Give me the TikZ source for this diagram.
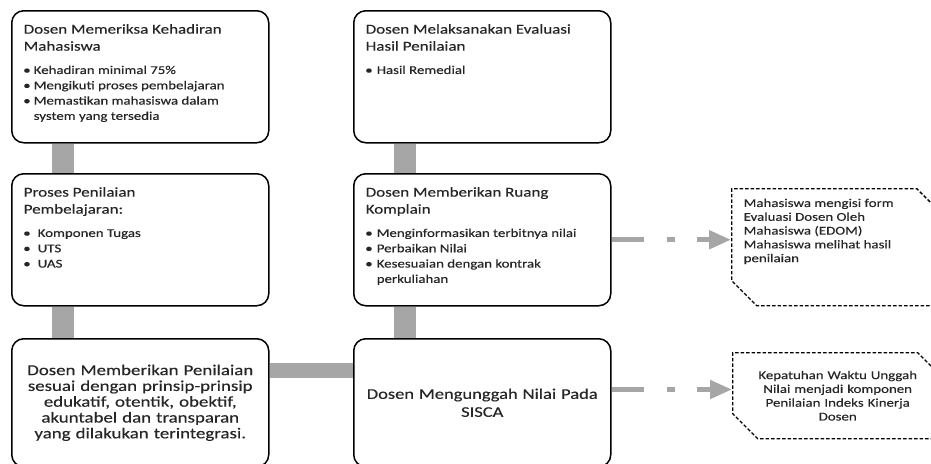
\documentclass[tikz,border=0pt]{standalone}
\usepackage{fontspec}
\setmainfont{Carlito}[FakeStretch=1.25,FakeBold=0.3]
\usepackage{xcolor}
\usetikzlibrary{arrows.meta,positioning,shapes.misc}
\definecolor{ink}{HTML}{262626}
\definecolor{bargray}{HTML}{A6A6A6}
\newcommand{\titlefont}{\fontsize{13.6}{17}\selectfont}
\newcommand{\listfont}{\fontsize{11.9}{15.3}\selectfont}
\newcommand{\bul}[2][10pt]{\par\hangindent=#1\hangafter=1\noindent
  \makebox[#1][l]{\hspace{-0.5pt}\textbullet}#2\par}
\newcommand{\cardbody}[2]{\begin{minipage}[t][110pt][t]{233pt}\raggedright
  \titlefont\strut#1\par\vspace{8pt}\listfont#2\end{minipage}}
\tikzset{
  card/.style={draw=black,line width=1.5pt,rounded corners=12pt,fill=white,
               anchor=north west,inner xsep=12pt,inner ysep=11pt,text=ink},
  midcard/.style={draw=black,line width=1.5pt,rounded corners=12pt,fill=white,
                  anchor=north west,minimum width=257pt,minimum height=128pt,
                  text width=245pt,align=center,inner sep=0pt,text=ink,
                  font=\fontsize{15.1}{15.8}\selectfont},
  snipcard/.style={chamfered rectangle,
                   chamfered rectangle corners={north east,south west},
                   chamfered rectangle xsep=12pt,chamfered rectangle ysep=13pt,
                   draw=black,line width=1.4pt,dash pattern=on 3.5pt off 2pt,
                   anchor=north west,inner sep=0pt,text=ink,
                   font=\fontsize{11.9}{13.8}\selectfont},
  vbar/.style={draw=bargray,line width=22pt},
  hbar/.style={draw=bargray,line width=15pt},
  dasharr/.style={draw=bargray,line width=5pt,
                  dash pattern=on 32pt off 23pt on 8pt off 22pt,
                  -{Triangle[length=22pt,width=18pt]}}
}
\begin{document}
\begin{tikzpicture}[x=1pt,y=-1pt]
  \useasboundingbox (0,0) rectangle (931,463);
  % left column
  \node[card] (hadir) at (11,10) {\cardbody{Dosen Memeriksa Kehadiran\\Mahasiswa}{%
    \bul{Kehadiran minimal 75\%}\bul{Mengikuti proses pembelajaran}%
    \bul{Memastikan mahasiswa dalam\newline system yang tersedia}}};
  \node[card] (proses) at (11,173) {\cardbody{Proses Penilaian\\Pembelajaran:}{%
    \bul[14pt]{Komponen Tugas}\bul[14pt]{UTS}\bul[14pt]{UAS}}};
  \node[midcard] (penilaian) at (11,338)
    {Dosen Memberikan Penilaian\\sesuai dengan prinsip-prinsip\\edukatif, otentik, obektif,\\akuntabel dan transparan\\yang dilakukan terintegrasi.};
  % middle column
  \node[card] (evaluasi) at (353,10) {\cardbody{Dosen Melaksanakan Evaluasi\\Hasil Penilaian}{%
    \bul[11pt]{Hasil Remedial}}};
  \node[card] (komplain) at (353,173) {\cardbody{Dosen Memberikan Ruang\\Komplain}{%
    \bul[11pt]{Menginformasikan terbitnya nilai}\bul[11pt]{Perbaikan Nilai}%
    \bul[11pt]{Kesesuaian dengan kontrak\newline perkuliahan}}};
  \node[midcard,font=\fontsize{14.8}{18}\selectfont] (unggah) at (353,338)
    {Dosen Mengunggah Nilai Pada\\SISCA};
  % right column
  \node[snipcard,minimum width=210pt,minimum height=117pt] (edom) at (731,188)
    {\begin{minipage}[t][91pt][t]{186pt}\vspace*{-3pt}Mahasiswa mengisi form\\Evaluasi Dosen Oleh\\Mahasiswa (EDOM)\\Mahasiswa melihat hasil\\penilaian\end{minipage}};
  \node[snipcard,minimum width=210pt,minimum height=86pt,text width=186pt,align=center] (patuh) at (732,352)
    {Kepatuhan Waktu Unggah\\Nilai menjadi komponen\\Penilaian Indeks Kinerja\\Dosen};
  % connectors
  \draw[vbar] ([xshift=52pt]hadir.south west) -- ([xshift=52pt]proses.north west);
  \draw[vbar] ([xshift=52pt]proses.south west) -- ([xshift=52pt]penilaian.north west);
  \draw[vbar] ([xshift=52pt]evaluasi.south west) -- ([xshift=52pt]komplain.north west);
  \draw[vbar] ([xshift=52pt]komplain.south west) -- ([xshift=52pt]unggah.north west);
  \draw[hbar] ([yshift=-32.5pt]penilaian.north east) -- ([yshift=-32.5pt]unggah.north west);
  \draw[dasharr] (komplain.east) -- (komplain.east -| edom.west);
  \coordinate (out) at ([yshift=-51.5pt]unggah.north east);
  \draw[dasharr] (out) -- (out -| patuh.west);
\end{tikzpicture}
\end{document}
